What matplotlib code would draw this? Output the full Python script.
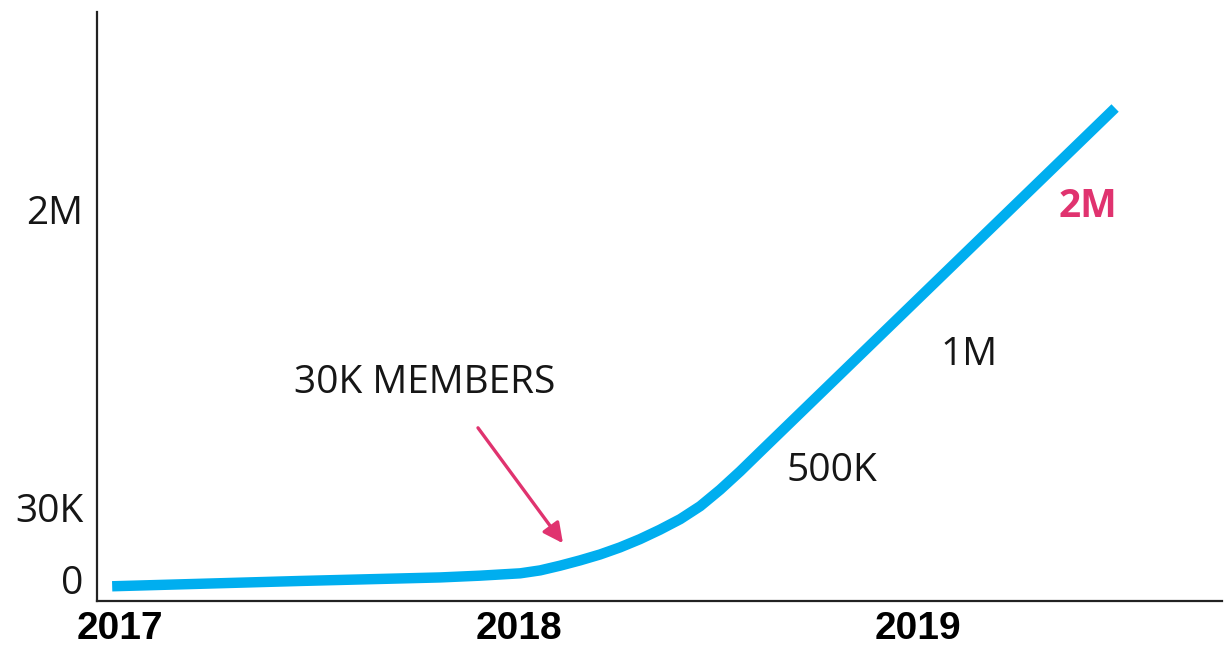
import matplotlib
matplotlib.use("Agg")
import matplotlib.pyplot as plt

# member growth curve (x in years, y in relative chart height)
years = [2016.980, 2017.451, 2017.802, 2017.902, 2018.003, 2018.053,
         2018.103, 2018.153, 2018.203, 2018.253, 2018.303, 2018.353,
         2018.404, 2018.454, 2018.504, 2018.554, 2018.604, 2019.494]
height = [0.025, 0.034, 0.040, 0.043, 0.047, 0.052,
          0.060, 0.069, 0.079, 0.091, 0.105, 0.121,
          0.139, 0.161, 0.189, 0.220, 0.253, 0.837]

xtick_pos = [2017, 2018, 2019]
xtick_labels = ["2017", "2018", "2019"]
ytick_pos = [0.036, 0.158, 0.664]
ytick_labels = ["0", "30K", "2M"]

# callout labels: (text, x, y)
milestones = [("500K", 2018.784, 0.221), ("1M", 2019.128, 0.418)]
highlight = ("2M", 2019.426, 0.669)
note = ("30K MEMBERS", 2017.764, 0.370)
arrow_tail = (2017.897, 0.294)
arrow_tip = (2018.110, 0.098)

blue = "#00aeef"
pink = "#e0336f"
ink = "#161616"
sans = ["Open Sans", "DejaVu Sans"]

fig = plt.figure(figsize=(12.25, 6.49), dpi=100)
ax = fig.add_axes([97 / 1225, 48 / 649, 1125 / 1225, 589 / 649])
ax.set_xlim(2016.942, 2019.762)
ax.set_ylim(0, 1)

ax.plot(years, height, color=blue, lw=7.5, solid_capstyle="butt",
        solid_joinstyle="round")

for side in ["top", "right"]:
    ax.spines[side].set_visible(False)
for side in ["left", "bottom"]:
    ax.spines[side].set_linewidth(1.6)
    ax.spines[side].set_color("#222222")

ax.set_xticks(xtick_pos)
ax.set_xticklabels(xtick_labels, family=["Liberation Sans", "DejaVu Sans"],
                   fontweight="bold", fontsize=28, color="black")
ax.set_yticks(ytick_pos)
ax.set_yticklabels(ytick_labels, family=sans, fontsize=28, color=ink)
ax.tick_params(axis="x", length=0, pad=7)
ax.tick_params(axis="y", length=0, pad=10)

txt = dict(family=sans, fontsize=28, color=ink, ha="center", va="center")
ax.text(note[1], note[2], note[0], **txt)
ax.annotate("", xy=arrow_tip, xytext=arrow_tail,
            arrowprops=dict(arrowstyle="-|>", color=pink, lw=2.4,
                            mutation_scale=30, shrinkA=0, shrinkB=0))
for label, x, y in milestones:
    ax.text(x, y, label, **txt)
ax.text(highlight[1], highlight[2], highlight[0], family=sans, fontsize=28,
        fontweight="bold", color=pink, ha="center", va="center")

fig.savefig("out.png", dpi=100)
